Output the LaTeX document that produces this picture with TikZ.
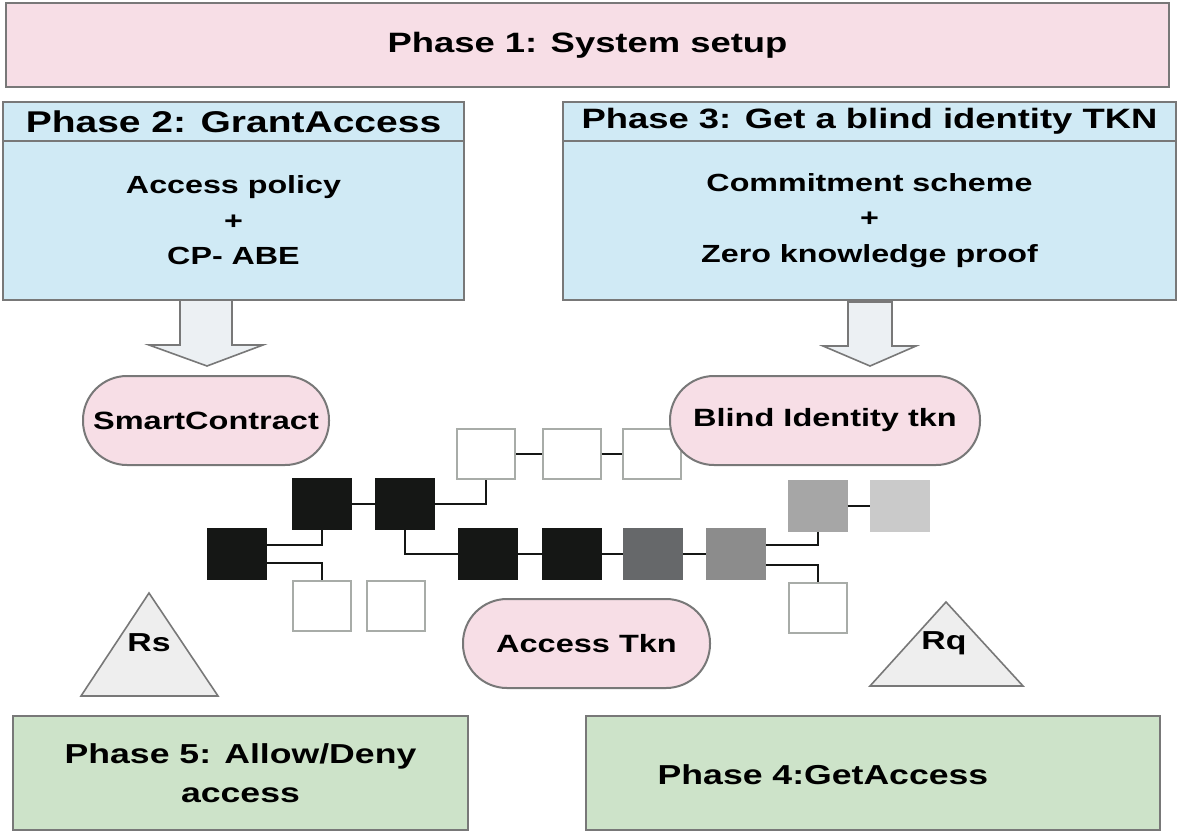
\documentclass[tikz,border=0pt]{standalone}
\usepackage{fontspec}
\setmainfont{Liberation Sans}[FakeStretch=1.3]
\definecolor{edge}{RGB}{120,120,120}
\definecolor{pinkbg}{RGB}{247,222,230}
\definecolor{bluebg}{RGB}{208,234,245}
\definecolor{greenbg}{RGB}{205,227,201}
\definecolor{arrowbg}{RGB}{236,240,243}
\definecolor{tribg}{RGB}{238,238,238}
\definecolor{blk}{RGB}{21,23,21}
\definecolor{dgr}{RGB}{102,104,106}
\definecolor{mgr}{RGB}{140,140,140}
\definecolor{lgr}{RGB}{166,166,166}
\definecolor{llgr}{RGB}{202,202,202}
\definecolor{wedge}{RGB}{168,172,168}

\begin{document}
\begin{tikzpicture}[x=0.5pt, y=-0.5pt,
    every node/.style={inner sep=2pt, align=center},
    box/.style={draw=edge, line width=1pt},
    phase/.style={box, fill=pinkbg, font=\fontsize{14}{16}\selectfont\bfseries},
    head/.style={box, fill=bluebg, minimum height=19.5pt, font=\fontsize{14}{16}\selectfont\bfseries},
    body/.style={box, fill=bluebg, minimum height=79.5pt, font=\fontsize{12.4}{17.75}\selectfont\bfseries},
    pill/.style={box, fill=pinkbg, rounded corners=22pt, minimum height=44.5pt, font=\fontsize{12.5}{15}\selectfont\bfseries},
    result/.style={box, fill=greenbg, minimum height=57pt, font=\fontsize{13.7}{19.5}\selectfont\bfseries},
    block/.style={minimum width=29pt, minimum height=25pt, inner sep=0pt, line width=1pt},
    link/.style={line width=1pt, draw=blk},
    bigarrow/.style={draw=edge, line width=0.8pt, fill=arrowbg},
    tri/.style={draw=edge, line width=0.8pt, fill=tribg},
    rlabel/.style={font=\fontsize{13}{15}\selectfont\bfseries}]
    \useasboundingbox (0,0) rectangle (1181,835);
    \fill[white] (0,0) rectangle (1181,835);
    % phases 1-3
    \node[phase, minimum width=581.5pt, minimum height=42pt] (p1) at (587.5,45) {Phase 1: System setup};
    \node[head, minimum width=230.5pt, font=\fontsize{15}{17}\selectfont\bfseries] (p2) at (233.5,121.5) {Phase 2: GrantAccess};
    \node[body, minimum width=230.5pt] (p2body) at (233.5,220.5) {Access policy\\+\\CP- ABE};
    \node[head, minimum width=306.5pt] (p3) at (869.5,121.5) {Phase 3: Get a blind identity TKN};
    \node[body, minimum width=306.5pt] (p3body) at (869.5,220.5) {Commitment scheme\\+\\Zero knowledge proof};
    % block arrows
    \filldraw[bigarrow] (180,300) -- (180,345) -- (149,345) -- (207,366) -- (263,345) -- (232,345) -- (232,300) -- cycle;
    \filldraw[bigarrow] (848,302) -- (848,346) -- (823,346) -- (870,366) -- (916,346) -- (892,346) -- (892,302) -- cycle;
    % chain
    \foreach \n/\x/\y/\c in {a1/322/504/blk, a2/405/504/blk, c0/236.5/554/blk,
                             m1/488/554/blk, m2/572/554/blk, m3/653/554/dgr, m4/736/554/mgr,
                             g1/817.5/505.5/lgr, g2/899.5/505.5/llgr} {
        \node[block, fill=\c, draw=\c] (\n) at (\x,\y) {};
    }
    \foreach \n/\x/\y in {w1/486/454, w2/571.5/454, w3/651.5/454, w4/322/606, w5/396/606, w6/818/608} {
        \node[block, fill=white, draw=wedge] (\n) at (\x,\y) {};
    }
    \foreach \u/\v in {a1/a2, m1/m2, m2/m3, m3/m4, g1/g2, w1/w2, w2/w3} {
        \draw[link] (\u) -- (\v);
    }
    \draw[link] (a2.east) -| (w1.south);
    \draw[link] ([yshift=4.5pt]c0.east) -| (a1.south);
    \draw[link] ([yshift=-4.5pt]c0.east) -| (w4.north);
    \draw[link] (a2.south) |- (m1.west);
    \draw[link] ([yshift=4.5pt]m4.east) -| (g1.south);
    \draw[link] ([yshift=-5.5pt]m4.east) -| (w6.north);
    % tokens
    \node[pill, minimum width=123pt] (sc) at (206,420.5) {SmartContract};
    \node[pill, minimum width=155pt] (bit) at (825,420.5) {Blind Identity tkn};
    \node[pill, minimum width=123.5pt] (at) at (586.5,643.5) {Access Tkn};
    % Rs and Rq
    \filldraw[tri] (81,696) -- (149,593) -- (218,696) -- cycle;
    \node[rlabel] (rs) at (149,643) {Rs};
    \filldraw[tri] (870,686) -- (946,602) -- (1023,686) -- cycle;
    \node[rlabel] (rq) at (944,643) {Rq};
    % phases 4-5
    \node[result, minimum width=227.5pt] (p5) at (240.5,773) {Phase 5: Allow/Deny\\access};
    \node[result, minimum width=287pt] (p4) at (873,773) {};
    \node[font=\fontsize{13.7}{16}\selectfont\bfseries] (p4text) at (823,775) {Phase 4:GetAccess};
\end{tikzpicture}
\end{document}
